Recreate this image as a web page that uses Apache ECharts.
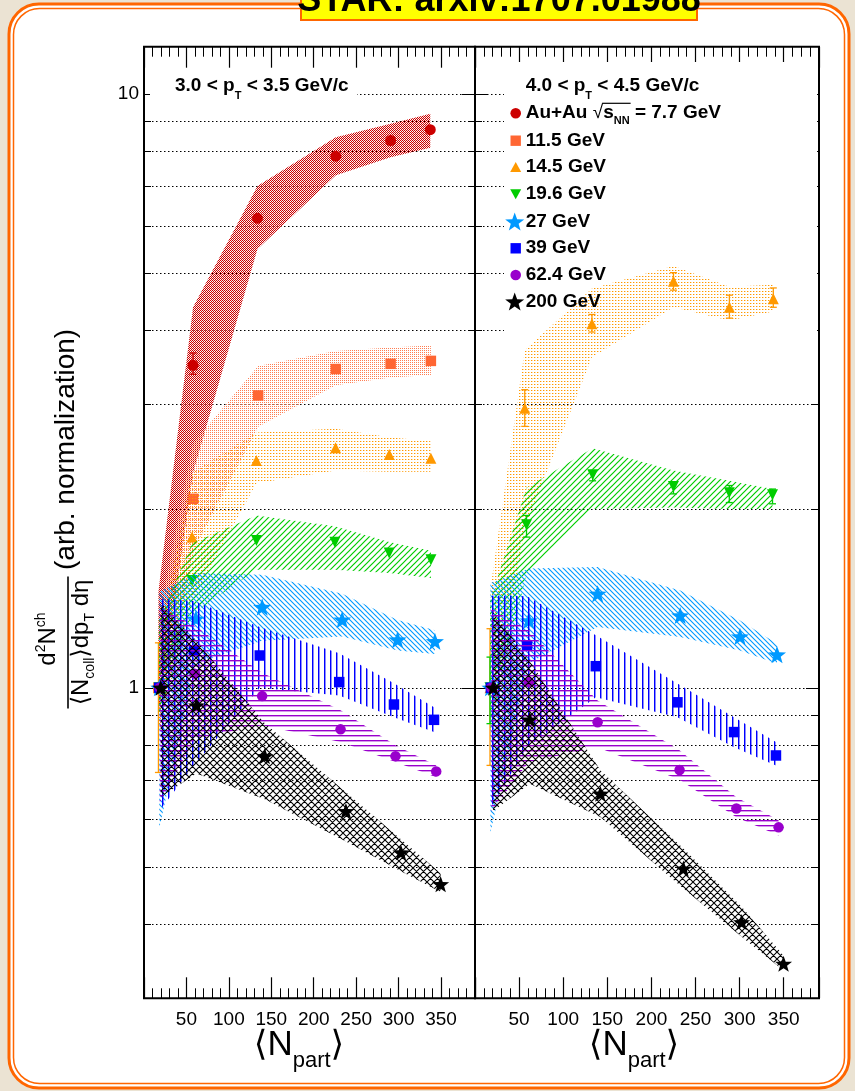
<!DOCTYPE html>
<html><head><meta charset="utf-8">
<script src="https://cdn.jsdelivr.net/npm/echarts@6/dist/echarts.min.js"></script>
<style>html,body{margin:0;padding:0;background:#ebe3d3;}#c{width:855px;height:1091px;}</style>
</head><body><div id="c"></div>
<script>
// ---------------- DATA ----------------
const ENERGY = ['7.7', '11.5', '14.5', '19.6', '27', '39', '62.4', '200'];
const LEGEND_LABELS = ['7.7 GeV', '11.5 GeV', '14.5 GeV', '19.6 GeV', '27 GeV', '39 GeV', '62.4 GeV', '200 GeV'];
const X_TICK_LABELS = [50, 100, 150, 200, 250, 300, 350];
const Y_TICK_LABELS = [1, 10];
const Y_GRID = [0.4, 0.5, 0.6, 0.7, 0.8, 0.9, 1, 2, 3, 4, 5, 6, 7, 8, 9, 10];
const PANEL_LABELS = [['3.0', '3.5'], ['4.0', '4.5']];

// Panel 1 : 3.0 < pT < 3.5 GeV/c
const p1_npart_77 = [17, 57.8, 133.7, 226, 290.6, 337.3];
const p1_yield_77 = [1, 3.49, 6.17, 7.85, 8.34, 8.70];
const p1_sysLo_77 = [0.9, 2.3, 5.48, 7.29, 7.82, 8.11];
const p1_sysHi_77 = [1.45, 4.37, 6.99, 8.45, 8.90, 9.25];
const p1_errLo_77 = [null, 3.37, null, null, null, null];
const p1_errHi_77 = [null, 3.66, null, null, null, null];

const p1_npart_115 = [17, 57.8, 134.5, 226, 290.6, 338];
const p1_yield_115 = [1, 2.08, 3.105, 3.44, 3.51, 3.55];
const p1_sysLo_115 = [0.82, 1.70, 2.75, 3.23, 3.33, 3.36];
const p1_sysHi_115 = [1.3, 2.58, 3.48, 3.69, 3.74, 3.77];

const p1_npart_145 = [17, 56.6, 132.4, 225.7, 289, 338];
const p1_yield_145 = [1, 1.793, 2.414, 2.535, 2.47, 2.435];
const p1_sysLo_145 = [0.85, 1.40, 2.21, 2.32, 2.31, 2.31];
const p1_sysHi_145 = [1.2, 2.30, 2.69, 2.73, 2.64, 2.60];
const p1_errLo_145 = [0.72, null, null, null, null, null];
const p1_errHi_145 = [1.19, null, null, null, null, null];

const p1_npart_196 = [17.5, 56.6, 132.5, 224.9, 288.9, 338.1];
const p1_yield_196 = [1, 1.516, 1.77, 1.758, 1.685, 1.643];
const p1_sysLo_196 = [0.9, 1.33, 1.58, 1.58, 1.56, 1.53];
const p1_sysHi_196 = [1.3, 1.75, 1.95, 1.87, 1.76, 1.70];

const p1_npart_27 = [18, 61.2, 139.2, 233.5, 298.8, 342.8];
const p1_yield_27 = [1, 1.307, 1.367, 1.302, 1.205, 1.197];
const p1_sysLo_27 = [0.58, 1.10, 1.20, 1.22, 1.155, 1.14];
const p1_sysHi_27 = [1.45, 1.56, 1.55, 1.44, 1.30, 1.25];

const p1_npart_39 = [18, 59, 136.4, 230, 294.5, 341.7];
const p1_yield_39 = [1, 1.156, 1.133, 1.022, 0.937, 0.883];
const p1_sysLo_39 = [0.62, 0.74, 1.0, 0.97, 0.892, 0.842];
const p1_sysHi_39 = [1.41, 1.40, 1.265, 1.143, 1.017, 0.927];

const p1_npart_624 = [18.5, 59.8, 139.2, 231.6, 296.3, 344.3];
const p1_yield_624 = [1, 1.056, 0.968, 0.851, 0.767, 0.723];
const p1_sysLo_624 = [0.64, 0.82, 0.865, 0.81, 0.75, 0.707];
const p1_sysHi_624 = [1.37, 1.27, 1.06, 0.916, 0.80, 0.74];

const p1_npart_200 = [19.7, 61.8, 142.3, 237.9, 302.7, 349.5];
const p1_yield_200 = [1, 0.934, 0.767, 0.62, 0.528, 0.467];
const p1_sysLo_200 = [0.654, 0.717, 0.649, 0.551, 0.491, 0.453];
const p1_sysHi_200 = [1.39, 1.20, 0.871, 0.667, 0.556, 0.487];

// Panel 2 : 4.0 < pT < 4.5 GeV/c
const p2_npart_145 = [17, 56.4, 132.6, 225, 288.4, 338.2];
const p2_yield_145 = [1, 2.956, 4.10, 4.836, 4.372, 4.517];
const p2_sysLo_145 = [0.8, 1.86, 3.6, 4.37, 4.15, 4.3];
const p2_sysHi_145 = [1.45, 3.70, 4.70, 5.13, 4.73, 4.77];
const p2_errLo_145 = [0.74, 2.754, 3.97, 4.67, 4.19, 4.37];
const p2_errHi_145 = [1.257, 3.175, 4.25, 4.998, 4.58, 4.71];

const p2_npart_196 = [17, 58.4, 133.4, 225, 288.3, 337.3];
const p2_yield_196 = [1, 1.881, 2.284, 2.182, 2.13, 2.113];
const p2_sysLo_196 = [0.85, 1.557, 2.0, 2.01, 2.0, 2.0];
const p2_sysHi_196 = [1.4, 2.17, 2.53, 2.32, 2.23, 2.16];
const p2_errLo_196 = [0.87, 1.793, 2.23, 2.12, 2.05, 2.04];
const p2_errHi_196 = [1.126, 1.95, 2.32, 2.22, 2.19, 2.16];

const p2_npart_27 = [17.5, 61, 139, 232.6, 300.4, 342.4];
const p2_yield_27 = [1, 1.298, 1.439, 1.323, 1.22, 1.137];
const p2_sysLo_27 = [0.57, 1.1, 1.265, 1.217, 1.155, 1.097];
const p2_sysHi_27 = [1.5, 1.588, 1.596, 1.458, 1.298, 1.186];

const p2_npart_39 = [18, 59, 137, 229.5, 293.7, 341.2];
const p2_yield_39 = [1, 1.178, 1.087, 0.945, 0.842, 0.769];
const p2_sysLo_39 = [0.63, 0.794, 0.964, 0.892, 0.794, 0.74];
const p2_sysHi_39 = [1.43, 1.425, 1.225, 1.016, 0.892, 0.81];

const p2_npart_624 = [18.5, 61, 139, 231.9, 296.3, 344.2];
const p2_yield_624 = [1, 1.022, 0.875, 0.727, 0.626, 0.582];
const p2_sysLo_624 = [0.62, 0.75, 0.794, 0.70, 0.605, 0.564];
const p2_sysHi_624 = [1.36, 1.25, 0.952, 0.785, 0.654, 0.598];

const p2_npart_200 = [20.6, 62.1, 142.1, 236.3, 302.3, 349.8];
const p2_yield_200 = [1, 0.884, 0.663, 0.496, 0.403, 0.343];
const p2_sysLo_200 = [0.62, 0.689, 0.606, 0.459, 0.381, 0.334];
const p2_sysHi_200 = [1.34, 1.11, 0.726, 0.536, 0.428, 0.354];

// ---------------- STYLE ----------------
const FONT = '"Liberation Sans", "DejaVu Sans", Arial, sans-serif';
const STYLE = [
  {color: '#cc0000', symbol: 'circle', size: 11, rot: 0, hatch: 'dense', leg: 'circle'},
  {color: '#ff6633', symbol: 'rect', size: 10.5, rot: 0, hatch: 'dots', leg: 'rect'},
  {color: '#ff9900', symbol: 'triangle', size: 11, rot: 0, hatch: 'sparse', leg: 'up'},
  {color: '#00cc00', symbol: 'triangle', size: 11, rot: 180, hatch: 'fwd', leg: 'down'},
  {color: '#0099ff', symbol: 'star', size: 18, rot: 0, hatch: 'back', leg: 'star'},
  {color: '#0000ff', symbol: 'rect', size: 10.5, rot: 0, hatch: 'vert', leg: 'rect'},
  {color: '#9900cc', symbol: 'circle', size: 10.5, rot: 0, hatch: 'horiz', leg: 'circle'},
  {color: '#000000', symbol: 'star', size: 17, rot: 0, hatch: 'cross', leg: 'star'}
];

function starPoints(cx, cy, R, rIn) {
  const pts = [];
  for (let k = 0; k < 10; k++) {
    const a = -Math.PI / 2 + k * Math.PI / 5;
    const r = (k % 2) ? rIn : R;
    pts.push([cx + r * Math.cos(a), cy + r * Math.sin(a)]);
  }
  return pts;
}
const STAR_PATH = 'path://M' + starPoints(10, 10, 10, 4.1).map(p => p[0].toFixed(2) + ',' + p[1].toFixed(2)).join('L') + 'Z';

function makePattern(kind, color) {
  const c = document.createElement('canvas');
  const ctx = c.getContext('2d');
  function pix(w, h, px) {
    c.width = w; c.height = h;
    ctx.fillStyle = color;
    px.forEach(p => { ctx.globalAlpha = p[2]; ctx.fillRect(p[0], p[1], 1, 1); });
  }
  function diag(s, dirs, lw) {
    c.width = s; c.height = s;
    ctx.strokeStyle = color; ctx.lineWidth = lw;
    ctx.beginPath();
    [-s, 0, s].forEach(o => {
      if (dirs.indexOf('f') >= 0) { ctx.moveTo(o - 1, s + 1); ctx.lineTo(o + s + 1, -1); }
      if (dirs.indexOf('b') >= 0) { ctx.moveTo(o - 1, -1); ctx.lineTo(o + s + 1, s + 1); }
    });
    ctx.stroke();
  }
  if (kind === 'dense') pix(2, 2, [[0, 0, 1], [1, 1, 1], [1, 0, 0.15]]);
  else if (kind === 'dots') pix(2, 2, [[0, 0, 0.85]]);
  else if (kind === 'sparse') pix(3, 3, [[0, 0, 1], [1, 0, 0.35]]);
  else if (kind === 'fwd') diag(6, 'f', 1.2);
  else if (kind === 'back') diag(5, 'b', 1.1);
  else if (kind === 'cross') diag(7, 'fb', 1.1);
  else if (kind === 'vert') pix(6, 1, [[0, 0, 1], [1, 0, 0.45]]);
  else if (kind === 'horiz') pix(1, 5, [[0, 0, 1], [0, 1, 0.4]]);
  return {image: c, repeat: 'repeat'};
}

// text helpers
const mctx = document.createElement('canvas').getContext('2d');
function fontStr(size, bold) { return (bold ? 'bold ' : '') + size + 'px ' + FONT; }
function tw(t, size, bold) { mctx.font = fontStr(size, bold); return mctx.measureText(t).width; }
function textRow(tokens, x, baseline, align, z) {
  const total = tokens.reduce((s, t) => s + tw(t[0], t[1], t[2]), 0);
  let cx = align === 'center' ? x - total / 2 : x;
  const els = [], xs = [];
  tokens.forEach(t => {
    const w = tw(t[0], t[1], t[2]);
    xs.push([cx, cx + w]);
    els.push({type: 'text', x: cx, y: baseline + (t[3] || 0) - 0.35 * t[1], z: z || 50, silent: true,
      style: {text: t[0], font: fontStr(t[1], t[2]), fill: '#000', align: 'left', verticalAlign: 'middle',
        textAlign: 'left', textVerticalAlign: 'middle'}});
    cx += w;
  });
  return {els, xs};
}

// ---------------- CHART ----------------
const chart = echarts.init(document.getElementById('c'), null, {renderer: 'canvas'});
const series = [];

function addGridLines(xi, yi) {
  series.push({
    type: 'custom', xAxisIndex: xi, yAxisIndex: yi, z: 1, silent: true,
    data: Y_GRID.map(v => [0, v]), encode: {x: 0, y: 1},
    renderItem: (params, api) => {
      const cs = params.coordSys;
      const v = api.value(1);
      const yy = Math.round(api.coord([0, v])[1]) + 0.5;
      const L = (v === 1 || v === 10) ? 13 : 7;
      return {type: 'group', children: [
        {type: 'line', shape: {x1: cs.x, y1: yy, x2: cs.x + cs.width, y2: yy}, style: {stroke: '#000', lineWidth: 1, lineDash: [1.5, 2.5]}},
        {type: 'line', shape: {x1: cs.x, y1: yy, x2: cs.x + L, y2: yy}, style: {stroke: '#000', lineWidth: 1}},
        {type: 'line', shape: {x1: cs.x + cs.width - L, y1: yy, x2: cs.x + cs.width, y2: yy}, style: {stroke: '#000', lineWidth: 1}}
      ]};
    }
  });
}

function addSet(xi, yi, k, x, y, lo, hi, eLo, eHi) {
  const st = STYLE[k];
  const pattern = makePattern(st.hatch, st.color);
  series.push({
    type: 'custom', name: 'sys ' + ENERGY[k] + ' ' + xi, xAxisIndex: xi, yAxisIndex: yi, z: 3 + 2 * k, silent: true, clip: true,
    data: x.map((v, i) => [v, lo[i], hi[i]]), encode: {x: 0, y: [1, 2]},
    renderItem: (params, api) => {
      if (params.dataIndex !== 0) return null;
      const up = x.map((v, i) => api.coord([v, hi[i]]));
      const dn = x.map((v, i) => api.coord([v, lo[i]])).reverse();
      return {type: 'polygon', shape: {points: up.concat(dn)}, style: {fill: pattern, stroke: null}};
    }
  });
  if (eLo) {
    const rows = x.map((v, i) => [v, eLo[i], eHi[i]]).filter(r => r[1] != null);
    series.push({
      type: 'custom', name: 'err ' + ENERGY[k] + ' ' + xi, xAxisIndex: xi, yAxisIndex: yi, z: 4 + 2 * k, silent: true,
      data: rows, encode: {x: 0, y: [1, 2]},
      renderItem: (params, api) => {
        const a = api.coord([api.value(0), api.value(1)]);
        const b = api.coord([api.value(0), api.value(2)]);
        const s = {stroke: st.color, lineWidth: 1.3};
        return {type: 'group', children: [
          {type: 'line', shape: {x1: a[0], y1: a[1], x2: b[0], y2: b[1]}, style: s},
          {type: 'line', shape: {x1: a[0] - 3.5, y1: a[1], x2: a[0] + 3.5, y2: a[1]}, style: s},
          {type: 'line', shape: {x1: b[0] - 3.5, y1: b[1], x2: b[0] + 3.5, y2: b[1]}, style: s}
        ]};
      }
    });
  }
  series.push({
    type: 'scatter', name: LEGEND_LABELS[k], xAxisIndex: xi, yAxisIndex: yi, z: 4 + 2 * k, silent: true,
    symbol: st.symbol === 'star' ? STAR_PATH : st.symbol, symbolSize: st.size, symbolRotate: st.rot, symbolKeepAspect: true,
    itemStyle: {color: st.color, opacity: 1},
    data: x.map((v, i) => [v, y[i]])
  });
}

addGridLines(0, 0);
addGridLines(4, 1);
addSet(0, 0, 0, p1_npart_77, p1_yield_77, p1_sysLo_77, p1_sysHi_77, p1_errLo_77, p1_errHi_77);
addSet(0, 0, 1, p1_npart_115, p1_yield_115, p1_sysLo_115, p1_sysHi_115);
addSet(0, 0, 2, p1_npart_145, p1_yield_145, p1_sysLo_145, p1_sysHi_145, p1_errLo_145, p1_errHi_145);
addSet(0, 0, 3, p1_npart_196, p1_yield_196, p1_sysLo_196, p1_sysHi_196);
addSet(0, 0, 4, p1_npart_27, p1_yield_27, p1_sysLo_27, p1_sysHi_27);
addSet(0, 0, 5, p1_npart_39, p1_yield_39, p1_sysLo_39, p1_sysHi_39);
addSet(0, 0, 6, p1_npart_624, p1_yield_624, p1_sysLo_624, p1_sysHi_624);
addSet(0, 0, 7, p1_npart_200, p1_yield_200, p1_sysLo_200, p1_sysHi_200);
addSet(4, 1, 2, p2_npart_145, p2_yield_145, p2_sysLo_145, p2_sysHi_145, p2_errLo_145, p2_errHi_145);
addSet(4, 1, 3, p2_npart_196, p2_yield_196, p2_sysLo_196, p2_sysHi_196, p2_errLo_196, p2_errHi_196);
addSet(4, 1, 4, p2_npart_27, p2_yield_27, p2_sysLo_27, p2_sysHi_27);
addSet(4, 1, 5, p2_npart_39, p2_yield_39, p2_sysLo_39, p2_sysHi_39);
addSet(4, 1, 6, p2_npart_624, p2_yield_624, p2_sysLo_624, p2_sysHi_624);
addSet(4, 1, 7, p2_npart_200, p2_yield_200, p2_sysLo_200, p2_sysHi_200);

function xAxes(g) {
  const base = {gridIndex: g, type: 'value', min: 0, max: 390, axisLine: {show: false}, splitLine: {show: false}};
  return [
    Object.assign({}, base, {position: 'bottom', interval: 50,
      axisTick: {inside: true, length: 21, lineStyle: {color: '#000', width: 1.2}},
      axisLabel: {margin: 12, color: '#000', fontSize: 19, fontFamily: FONT,
        formatter: v => X_TICK_LABELS.indexOf(v) >= 0 ? String(v) : ''}}),
    Object.assign({}, base, {position: 'bottom', interval: 10,
      axisTick: {inside: true, length: 10, lineStyle: {color: '#000', width: 1}}, axisLabel: {show: false}}),
    Object.assign({}, base, {position: 'top', interval: 50,
      axisTick: {inside: true, length: 21, lineStyle: {color: '#000', width: 1.2}}, axisLabel: {show: false}}),
    Object.assign({}, base, {position: 'top', interval: 10,
      axisTick: {inside: true, length: 10, lineStyle: {color: '#000', width: 1}}, axisLabel: {show: false}})
  ];
}
function yAxis(g) {
  return {gridIndex: g, type: 'log', logBase: 10, min: 0.3, max: 12, axisLine: {show: false}, axisTick: {show: false},
    splitLine: {show: false}, minorTick: {show: false},
    axisLabel: g === 0 ? {margin: 5, padding: [5, 0, 0, 0], color: '#000', fontSize: 19, fontFamily: FONT,
      formatter: v => { const m = Y_TICK_LABELS.find(t => Math.abs(v - t) < 1e-6 * t); return m ? String(m) : ''; }} : {show: false}};
}

// ---------------- GRAPHIC (frame, labels, legend) ----------------
const graphic = [];
graphic.push({type: 'rect', z: -10, silent: true, shape: {x: 9, y: 4, width: 840, height: 1084, r: 30}, style: {fill: '#ffffff', stroke: '#ff6600', lineWidth: 3}});
graphic.push({type: 'rect', z: -9, silent: true, shape: {x: 13.5, y: 8.5, width: 831, height: 1075, r: 26}, style: {fill: 'none', stroke: '#ff6600', lineWidth: 1.5}});
graphic.push({type: 'rect', z: 60, silent: true, shape: {x: 301, y: -6, width: 396, height: 26}, style: {fill: '#ffff00', stroke: '#ff6600', lineWidth: 2}});
textRow([['STAR: arxiv:1707.01988', 36, true]], 499, 13.5, 'center', 61).els.forEach(e => graphic.push(e));

// white label boxes (cover grid lines)
graphic.push({type: 'rect', z: 2, silent: true, shape: {x: 150, y: 78, width: 207, height: 26}, style: {fill: '#fff'}});
graphic.push({type: 'rect', z: 2, silent: true, shape: {x: 504, y: 62, width: 313, height: 276}, style: {fill: '#fff'}});

// pT labels
[[175, 0], [525.7, 1]].forEach(([x0, i]) => {
  textRow([[PANEL_LABELS[i][0] + ' < p', 19, true], ['T', 11, true, 7], [' < ' + PANEL_LABELS[i][1] + ' GeV/c', 19, true]], x0, 92.5, 'left').els.forEach(e => graphic.push(e));
});

// legend
const LEG_ROWS = [113.3, 140.7, 167.3, 194, 221.7, 248.3, 275, 301.7];
const LEG_MX = 515.7, LEG_TX = 525.7;
STYLE.forEach((st, k) => {
  const cy = LEG_ROWS[k], cx = LEG_MX;
  let m;
  if (st.leg === 'circle') m = {type: 'circle', shape: {cx, cy, r: 5.3}};
  else if (st.leg === 'rect') m = {type: 'rect', shape: {x: cx - 5.2, y: cy - 5.2, width: 10.4, height: 10.4}};
  else if (st.leg === 'up') m = {type: 'polygon', shape: {points: [[cx - 5.5, cy + 4.7], [cx + 5.5, cy + 4.7], [cx, cy - 5.3]]}};
  else if (st.leg === 'down') m = {type: 'polygon', shape: {points: [[cx - 5.5, cy - 4.7], [cx + 5.5, cy - 4.7], [cx, cy + 5.3]]}};
  else m = {type: 'polygon', shape: {points: starPoints(cx - 1, cy + 0.8, 10, 4.1)}};
  m.z = 50; m.silent = true; m.style = {fill: st.color};
  graphic.push(m);
  const base = cy + 6.5;
  if (k === 0) {
    const r = textRow([['Au+Au ', 19, true], ['\u221A', 19, false], ['s', 19, true], ['NN', 11, true, 5], [' = 7.7 GeV', 19, true]], LEG_TX, base, 'left');
    r.els.forEach(e => graphic.push(e));
    graphic.push({type: 'line', z: 50, silent: true, shape: {x1: r.xs[1][1] - 1, y1: cy - 10, x2: r.xs[3][1] + 1, y2: cy - 10}, style: {stroke: '#000', lineWidth: 1.2}});
  } else {
    textRow([[LEGEND_LABELS[k], 19, true]], LEG_TX, base, 'left').els.forEach(e => graphic.push(e));
  }
});

// x-axis titles
[299, 634].forEach(cx => {
  textRow([['\u27E8', 35, false], ['N', 35, false], ['part', 22, false, 11], ['\u27E9', 35, false]], cx, 1058, 'center').els.forEach(e => graphic.push(e));
});

// y-axis title (rotated group)
const yt = [];
yt.push({type: 'line', silent: true, shape: {x1: -66, y1: 0, x2: 66, y2: 0}, style: {stroke: '#000', lineWidth: 1.6}});
textRow([['d', 24, false], ['2', 14, false, -10], ['N', 24, false], ['ch', 14, false, -10]], 3.5, -11.5, 'center').els.forEach(e => yt.push(e));
textRow([['\u27E8', 24, false], ['N', 24, false], ['coll', 14, false, 6], ['\u27E9', 24, false], ['dp', 24, false], ['T', 14, false, 6], [' d', 24, false], ['\u03B7', 24, false]], 0, 21.5, 'center').els.forEach(e => yt.push(e));
textRow([['(arb. normalization)', 28, false]], 72.5, 8.5, 'left').els.forEach(e => yt.push(e));
graphic.push({type: 'group', x: 68, y: 642.5, rotation: Math.PI / 2, z: 50, silent: true, children: yt});

chart.setOption({
  animation: false,
  backgroundColor: 'transparent',
  textStyle: {fontFamily: FONT},
  grid: [
    {left: 144, top: 46.7, width: 331, height: 951.6, show: true, borderColor: '#000', borderWidth: 2, backgroundColor: 'transparent'},
    {left: 475, top: 46.7, width: 344, height: 951.6, show: true, borderColor: '#000', borderWidth: 2, backgroundColor: 'transparent'}
  ],
  xAxis: xAxes(0).concat(xAxes(1)),
  yAxis: [yAxis(0), yAxis(1)],
  graphic: graphic,
  series: series
});
</script></body></html>
